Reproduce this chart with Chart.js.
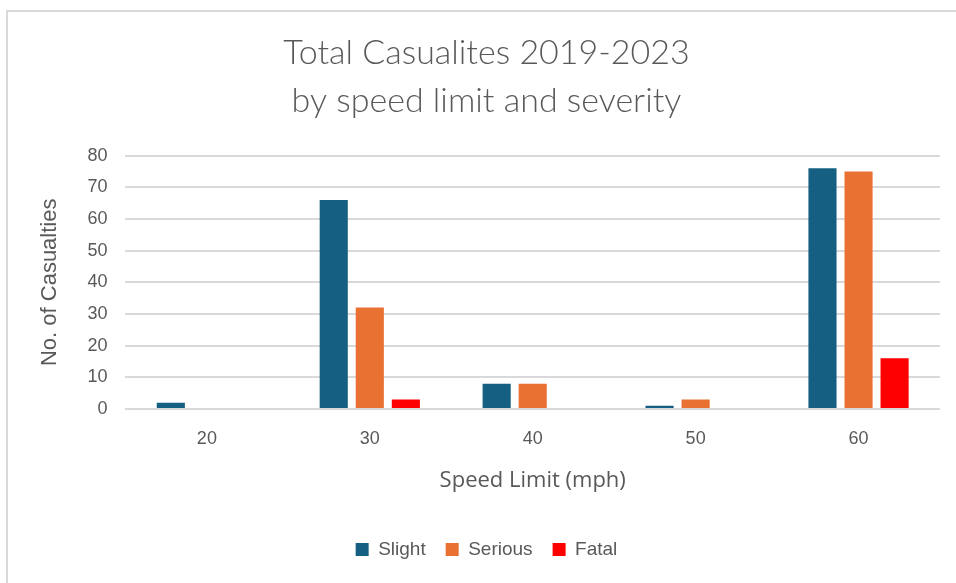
<!DOCTYPE html>
<html>
<head>
<meta charset="utf-8">
<script src="https://cdn.jsdelivr.net/npm/chart.js@4"></script>
<style>
  html, body { margin: 0; padding: 0; background: #fff; }
  #wrap { position: relative; width: 956px; height: 583px; }
  #frame { position: absolute; left: 6px; top: 10px; right: 0; bottom: 0;
           border-top: 2px solid #d9d9d9; border-left: 2px solid #d9d9d9; }
  canvas { position: absolute; left: 0; top: 0; }
</style>
</head>
<body>
<div id="wrap">
  <div id="frame"></div>
  <canvas id="chart" width="956" height="583"></canvas>
</div>
<script>
const speedLimits = ['20', '30', '40', '50', '60'];
const slight = [2, 66, 8, 1, 76];
const serious = [0, 32, 8, 3, 75];
const fatal = [0, 3, 0, 0, 16];

const textGrey = '#595959';
const tickFont = { family: 'Liberation Sans, Arial, sans-serif', size: 18 };

const ctx = document.getElementById('chart').getContext('2d');
new Chart(ctx, {
    type: 'bar',
    data: {
        labels: speedLimits,
        datasets: [
            { label: 'Slight', data: slight, backgroundColor: '#156082' },
            { label: 'Serious', data: serious, backgroundColor: '#E97132' },
            { label: 'Fatal', data: fatal, backgroundColor: '#FF0000' }
        ]
    },
    options: {
        responsive: false,
        animation: false,
        categoryPercentage: 0.664,
        barPercentage: 0.78,
        layout: { padding: { left: 33, right: 16, top: 29, bottom: 14 } },
        scales: {
            x: {
                grid: { display: false },
                border: { display: false },
                ticks: { color: textGrey, font: tickFont, padding: 11 },
                title: {
                    display: true, text: 'Speed Limit (mph)', color: textGrey,
                    font: { family: 'Open Sans, sans-serif', size: 22 }, padding: { top: 7, bottom: 26 }
                }
            },
            y: {
                min: 0, max: 80,
                ticks: { stepSize: 10, color: textGrey, font: tickFont, padding: 18 },
                grid: { color: '#d9d9d9', lineWidth: 2, drawTicks: false },
                border: { display: false },
                title: {
                    display: true, text: 'No. of Casualties', color: textGrey,
                    font: { family: 'Liberation Sans, Arial, sans-serif', size: 22 }, padding: { bottom: 6 }
                }
            }
        },
        plugins: {
            title: {
                display: true,
                text: ['Total Casualites 2019-2023', 'by speed limit and severity'],
                color: textGrey,
                font: { family: 'Lato, sans-serif', size: 34, weight: '300', lineHeight: 1.42 },
                padding: { bottom: 30 }
            },
            legend: {
                position: 'bottom',
                labels: { color: textGrey, font: { family: 'Liberation Sans, Arial, sans-serif', size: 19 },
                          boxWidth: 13, boxHeight: 13, padding: 20 }
            },
            tooltip: { enabled: false }
        }
    }
});
</script>
</body>
</html>
